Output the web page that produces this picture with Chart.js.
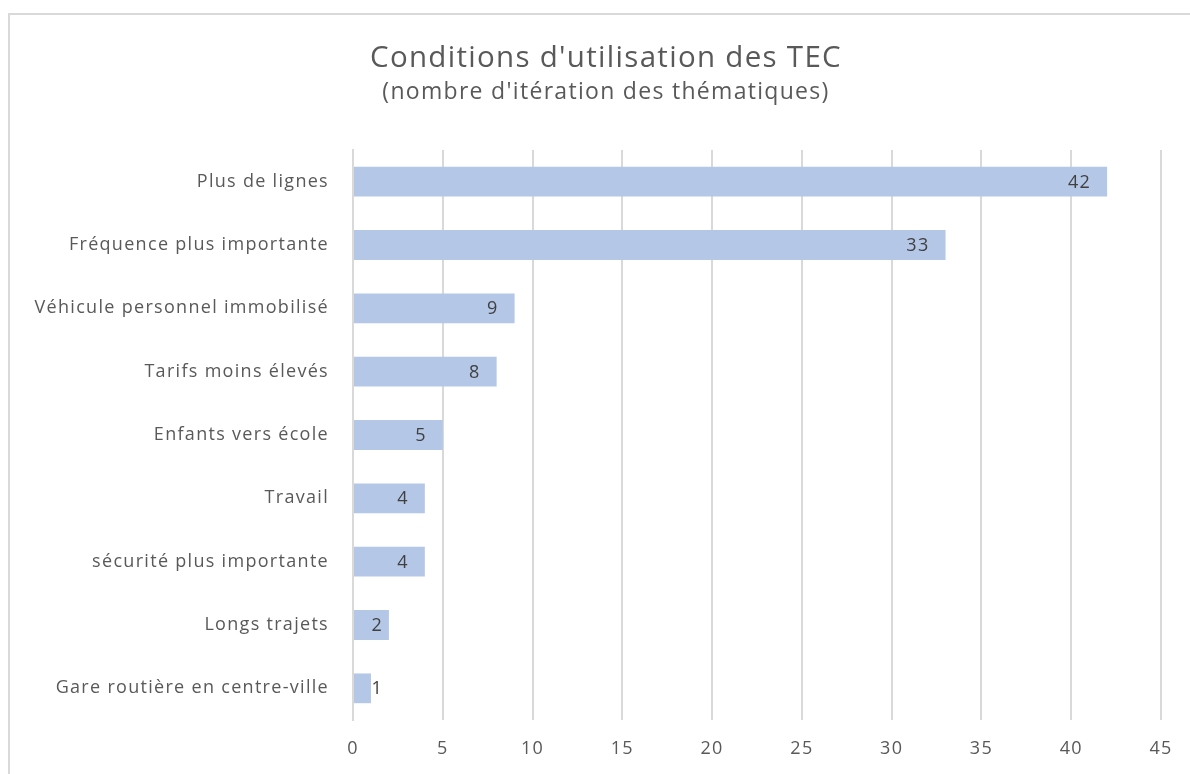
<!DOCTYPE html>
<html>
<head>
<meta charset="utf-8">
<script src="https://cdn.jsdelivr.net/npm/chart.js@4"></script>
<style>
	html, body { margin: 0; padding: 0; background: #fff; overflow: hidden; }
	#frame { position: absolute; left: 8px; top: 13px; width: 1194px; height: 761px;
		border-left: 2px solid #d9d9d9; border-top: 2px solid #d9d9d9; box-sizing: border-box; }
	#frame canvas { position: absolute; left: 0; top: 0; }
</style>
</head>
<body>
<div id="frame"><canvas id="themesChart" width="1192" height="759"></canvas></div>
<script>
const categories = [
	'Plus de lignes',
	'Fréquence plus importante',
	'Véhicule personnel immobilisé',
	'Tarifs moins élevés',
	'Enfants vers école',
	'Travail',
	'sécurité plus importante',
	'Longs trajets',
	'Gare routière en centre-ville'
];
const counts = [42, 33, 9, 8, 5, 4, 4, 2, 1];
const xTicks = [0, 5, 10, 15, 20, 25, 30, 35, 40, 45];

const textGrey = '#595959';
const fontFamily = '"Open Sans", "Liberation Sans", sans-serif';

// the original text is set a little loose, so space the letters out a bit
const spacing = {
	id: 'spacing',
	beforeLayout(chart) { chart.ctx.letterSpacing = '1.3px'; },
	beforeDraw(chart) { chart.ctx.letterSpacing = '1.3px'; }
};

// centre the title and subtitle on the whole canvas, not on the padded area
const fullWidthTitles = {
	id: 'fullWidthTitles',
	afterLayout(chart) {
		chart.boxes.forEach(box => {
			if (!box.axis && box.options && box.options.position === 'top') {
				box.left = 0;
				box.right = chart.width;
				box.width = chart.width;
			}
		});
	}
};

// values written at the inner end of each bar
const barValues = {
	id: 'barValues',
	afterDatasetsDraw(chart) {
		const ctx = chart.ctx;
		const meta = chart.getDatasetMeta(0);
		ctx.save();
		ctx.font = '18px ' + fontFamily;
		ctx.fillStyle = '#404040';
		ctx.textAlign = 'right';
		ctx.textBaseline = 'middle';
		meta.data.forEach((bar, i) => {
			const x = Math.max(bar.x - 16, bar.base + 29);
			ctx.fillText(String(counts[i]), x, bar.y + 1);
		});
		ctx.restore();
	}
};

document.addEventListener('DOMContentLoaded', () => {
	const canvas = document.getElementById('themesChart');
	new Chart(canvas, {
		type: 'bar',
		data: {
			labels: categories,
			datasets: [{
				data: counts,
				backgroundColor: '#b4c7e7',
				borderWidth: 0,
				categoryPercentage: 1,
				barPercentage: 0.47
			}]
		},
		options: {
			indexAxis: 'y',
			responsive: false,
			animation: false,
			layout: {padding: {left: 0, right: 41, top: 0, bottom: 0}},
			plugins: {
				legend: {display: false},
				tooltip: {enabled: false},
				title: {
					display: true,
					text: "Conditions d'utilisation des TEC",
					color: textGrey,
					font: {family: fontFamily, size: 29.5, weight: 'normal'},
					padding: {top: 26, bottom: 2}
				},
				subtitle: {
					display: true,
					text: "(nombre d'itération des thématiques)",
					color: textGrey,
					font: {family: fontFamily, size: 23, weight: 'normal'},
					padding: {top: 0, bottom: 44}
				}
			},
			scales: {
				x: {
					min: 0,
					max: 45,
					afterBuildTicks: (axis) => { axis.ticks = xTicks.map(v => ({value: v})); },
					grid: {color: '#d9d9d9', lineWidth: 2, drawTicks: false},
					border: {display: false},
					ticks: {color: textGrey, padding: 18, font: {family: fontFamily, size: 18}},
					afterFit: (axis) => { axis.height = 54; }
				},
				y: {
					grid: {display: false, drawTicks: false},
					border: {display: true, color: '#d9d9d9', width: 2},
					ticks: {color: textGrey, padding: 24, font: {family: fontFamily, size: 18}},
					afterFit: (axis) => { axis.width = 343; }
				}
			}
		},
		plugins: [spacing, fullWidthTitles, barValues]
	});
});
</script>
</body>
</html>
